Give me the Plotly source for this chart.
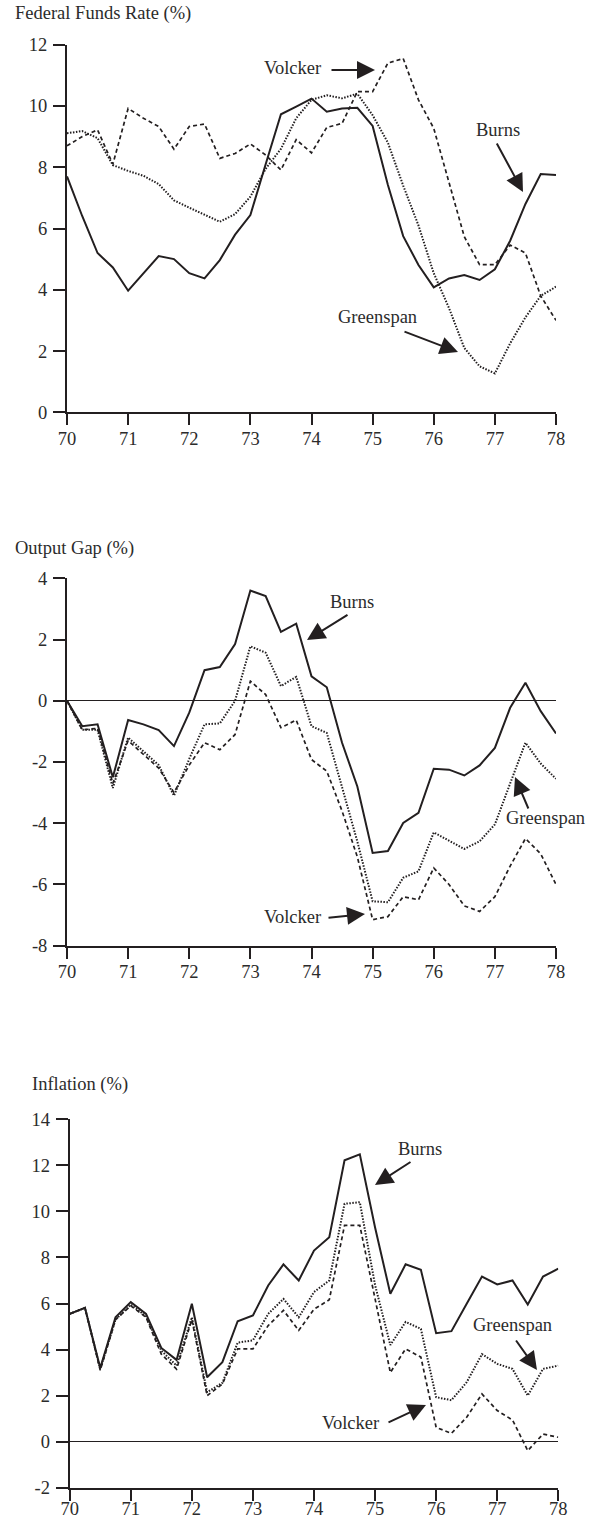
import plotly.graph_objects as go

W, H = 595, 1519

quarters = [70 + 0.25 * i for i in range(33)]

# Federal Funds Rate (%)
ffr_burns = [7.7, 6.4, 5.2, 4.73, 3.97, 4.54, 5.1, 5.0, 4.54, 4.37, 4.97, 5.8, 6.44,
             8.1, 9.73, 9.98, 10.24, 9.81, 9.92, 9.94, 9.35, 7.42, 5.75, 4.81, 4.08,
             4.37, 4.48, 4.32, 4.67, 5.6, 6.8, 7.78, 7.75]
ffr_greenspan = [9.11, 9.18, 8.95, 8.07, 7.88, 7.72, 7.45, 6.92, 6.68, 6.45, 6.22, 6.47, 7.04,
                 7.95, 8.6, 9.6, 10.2, 10.35, 10.25, 10.4, 9.7, 8.8, 7.4, 6.1, 4.54,
                 3.4, 2.1, 1.5, 1.27, 2.25, 3.1, 3.8, 4.1]
ffr_volcker = [8.7, 9.0, 9.22, 8.1, 9.92, 9.6, 9.33, 8.59, 9.33, 9.41, 8.29, 8.45, 8.76,
               8.4, 7.91, 8.9, 8.47, 9.3, 9.43, 10.47, 10.47, 11.4, 11.55, 10.2, 9.27,
               7.5, 5.73, 4.82, 4.82, 5.46, 5.2, 3.8, 3.0]

# Output Gap (%)
gap_burns = [0.0, -0.83, -0.77, -2.5, -0.63, -0.77, -0.96, -1.48, -0.39, 1.0, 1.1, 1.85, 3.6,
             3.42, 2.25, 2.52, 0.8, 0.44, -1.37, -2.8, -4.97, -4.91, -3.99, -3.66, -2.22,
             -2.25, -2.44, -2.11, -1.54, -0.23, 0.59, -0.34, -1.07]
gap_greenspan = [0.0, -0.95, -0.95, -2.85, -1.2, -1.65, -2.1, -3.1, -1.9, -0.77, -0.74, 0.0, 1.78,
                 1.57, 0.48, 0.78, -0.83, -1.05, -2.8, -4.6, -6.55, -6.58, -5.78, -5.57, -4.3,
                 -4.57, -4.84, -4.59, -4.04, -2.7, -1.37, -2.05, -2.55]
gap_volcker = [0.0, -0.95, -0.9, -2.7, -1.3, -1.75, -2.2, -3.0, -2.1, -1.37, -1.6, -1.1, 0.64,
               0.2, -0.88, -0.63, -1.92, -2.3, -3.6, -5.1, -7.15, -7.05, -6.4, -6.5, -5.46,
               -6.0, -6.7, -6.88, -6.4, -5.4, -4.5, -5.0, -6.0]

# Inflation (%)
inf_burns = [5.55, 5.81, 3.2, 5.4, 6.06, 5.55, 4.07, 3.55, 5.99, 2.8, 3.45, 5.23, 5.48,
             6.78, 7.7, 7.0, 8.3, 8.88, 12.22, 12.48, 9.3, 6.42, 7.7, 7.46, 4.71,
             4.8, 5.99, 7.17, 6.83, 7.0, 5.96, 7.17, 7.51]
inf_greenspan = [5.55, 5.81, 3.15, 5.3, 5.95, 5.45, 3.95, 3.3, 5.4, 2.15, 2.55, 4.3, 4.4,
                 5.55, 6.2, 5.4, 6.5, 7.0, 10.33, 10.4, 6.8, 4.2, 5.2, 4.9, 1.93,
                 1.8, 2.58, 3.8, 3.38, 3.16, 2.0, 3.16, 3.3]
inf_volcker = [5.55, 5.81, 3.1, 5.3, 5.9, 5.4, 3.8, 3.15, 5.3, 2.0, 2.5, 4.03, 4.03,
               5.04, 5.7, 4.83, 5.75, 6.16, 9.39, 9.39, 6.2, 3.0, 4.03, 3.67, 0.62,
               0.36, 1.06, 2.07, 1.35, 0.94, -0.39, 0.33, 0.19]

x_ticks = [70, 71, 72, 73, 74, 75, 76, 77, 78]
x_ticklabels = ["70", "71", "72", "73", "74", "75", "76", "77", "78"]
ffr_ticks = [0, 2, 4, 6, 8, 10, 12]
gap_ticks = [-8, -6, -4, -2, 0, 2, 4]
inf_ticks = [-2, 0, 2, 4, 6, 8, 10, 12, 14]

titles = ["Federal Funds Rate (%)", "Output Gap (%)", "Inflation (%)"]

INK = "#231f20"
TXT = "#2b2b2b"
FONT = "Liberation Serif"
FS = 18.5


def px(x):
    return x / W


def py(y):
    return 1 - y / H


# panel geometry in pixels: (x0, x1, ytop, ybottom)
panels = [
    (67, 556, 44.7, 412.3),
    (67, 556, 578.3, 945.7),
    (69.7, 558.3, 1119.3, 1487.7),
]
x_standoffs = [-3, -3, -8]
yranges = [[0, 12], [-8, 4], [-2, 14]]
yticks = [ffr_ticks, gap_ticks, inf_ticks]
series = [
    (ffr_burns, ffr_greenspan, ffr_volcker),
    (gap_burns, gap_greenspan, gap_volcker),
    (inf_burns, inf_greenspan, inf_volcker),
]

fig = go.Figure()
layout = dict(
    width=W, height=H,
    margin=dict(l=0, r=0, t=0, b=0, pad=0, autoexpand=False),
    paper_bgcolor="white", plot_bgcolor="white",
    showlegend=False,
    font=dict(family=FONT, size=FS, color=TXT),
)

for i, ((x0, x1, yt, yb), yr, yt_vals, (b, g, v)) in enumerate(zip(panels, yranges, yticks, series)):
    n = "" if i == 0 else str(i + 1)
    xa, ya = "x" + n, "y" + n
    fig.add_trace(go.Scatter(x=quarters, y=b, mode="lines", xaxis=xa, yaxis=ya,
                             line=dict(color=INK, width=2)))
    fig.add_trace(go.Scatter(x=quarters, y=g, mode="lines", xaxis=xa, yaxis=ya,
                             line=dict(color=INK, width=2, dash="1.5px,1.5px")))
    fig.add_trace(go.Scatter(x=quarters, y=v, mode="lines", xaxis=xa, yaxis=ya,
                             line=dict(color=INK, width=1.7, dash="4px,3px")))
    layout["xaxis" + n] = dict(
        domain=[px(x0), px(x1)], range=[70, 78], anchor=ya, automargin=False,
        tickvals=x_ticks, ticktext=x_ticklabels,
        showgrid=False, zeroline=False, showline=True, linecolor=INK, linewidth=2,
        ticks="outside", ticklen=11, tickwidth=2, tickcolor=INK,
        tickfont=dict(family=FONT, size=FS, color=TXT),
        ticklabelstandoff=x_standoffs[i],
    )
    layout["yaxis" + n] = dict(
        domain=[py(yb), py(yt)], range=yr, anchor=xa, automargin=False,
        tickvals=yt_vals, ticktext=[str(t) for t in yt_vals],
        showgrid=False, zeroline=(i > 0), zerolinecolor=INK, zerolinewidth=1,
        showline=True, linecolor=INK, linewidth=2,
        ticks="outside", ticklen=12, tickwidth=2, tickcolor=INK,
        tickfont=dict(family=FONT, size=FS, color=TXT),
        ticklabelstandoff=2,
    )

fig.update_layout(**layout)

annotations = []
# panel titles
for text, (x, y) in zip(titles, [(13, 14), (13, 548), (30, 1084)]):
    annotations.append(dict(text=text, x=px(x), y=py(y), xref="paper", yref="paper",
                            xanchor="left", yanchor="middle", showarrow=False,
                            font=dict(family=FONT, size=FS, color=TXT)))

# label texts: (text, center x, center y)
labels = [
    ("Volcker", 292.5, 68), ("Burns", 497.5, 130), ("Greenspan", 377, 317),
    ("Burns", 352, 602), ("Greenspan", 545, 818), ("Volcker", 292.5, 917),
    ("Burns", 419.5, 1149), ("Greenspan", 512, 1325), ("Volcker", 350, 1423),
]
for text, x, y in labels:
    annotations.append(dict(text=text, x=px(x), y=py(y), xref="paper", yref="paper",
                            xanchor="center", yanchor="middle", showarrow=False,
                            font=dict(family=FONT, size=FS, color=TXT)))

# arrows: (head x, head y, tail x, tail y) in pixels
arrows = [
    (375, 70, 330, 70), (523, 192, 496, 142), (458, 352, 403, 331),
    (307, 640, 349, 614), (515, 777, 529, 810), (365, 914, 327, 918),
    (375, 1185, 412, 1161), (537, 1370, 515, 1339), (426, 1405, 387, 1423),
]
for hx, hy, tx, ty in arrows:
    annotations.append(dict(text="", x=px(hx), y=py(hy), xref="paper", yref="paper",
                            ax=tx - hx, ay=ty - hy, axref="pixel", ayref="pixel",
                            showarrow=True, arrowhead=2, arrowsize=1.8, arrowwidth=2,
                            arrowcolor=INK, standoff=0))

fig.update_layout(annotations=annotations)
fig.write_html("out.html", config={"displayModeBar": False},
               post_script="document.body.style.margin='0';document.body.style.padding='0';")
